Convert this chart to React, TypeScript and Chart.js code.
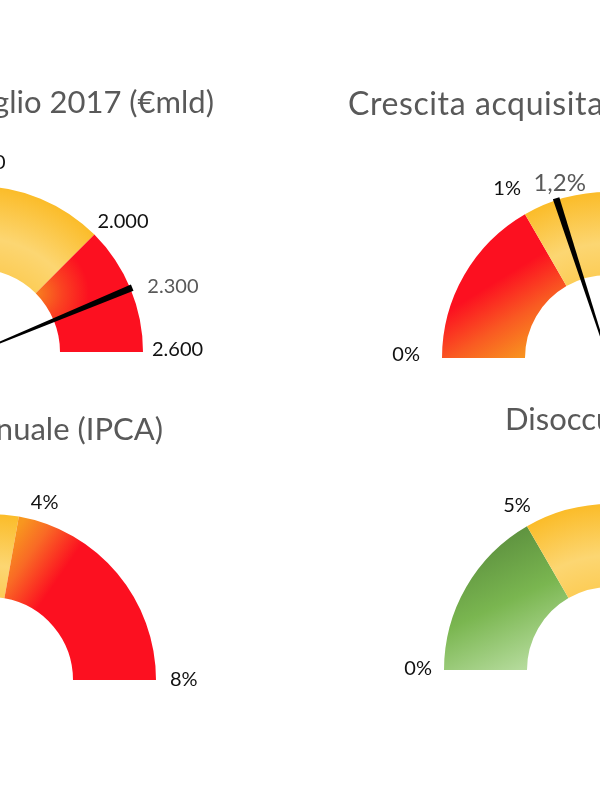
import React, { useEffect, useRef } from 'react';
import { Chart, registerables } from 'chart.js';

Chart.register(...registerables);

// ---------------- DATA ----------------
// Gauge 1 – public debt
const debtTitle = 'Debito pubblico luglio 2017 (€mld)';
const debtBounds = [200, 1400, 2000, 2300, 2600];
const debtTicks = [1400, 2000, 2300, 2600];
const debtTickLabels = ['1.400', '2.000', '2.300', '2.600'];
const debtNeedle = 2300;

// Gauge 2 – GDP growth
const growthTitle = 'Crescita acquisita PIL per il 2017';
const growthBounds = [0, 1, 2, 3];
const growthTicks = [0, 1, 1.2, 2, 3];
const growthTickLabels = ['0%', '1%', '1,2%', '2%', '3%'];
const growthNeedle = 1.2;

// Gauge 3 – inflation
const inflationTitle = 'Inflazione annuale (IPCA)';
const inflationBounds = [-1, 2, 4, 8];
const inflationTicks = [2, 4, 8];
const inflationTickLabels = ['2%', '4%', '8%'];
const inflationNeedle = 1.2;

// Gauge 4 – unemployment
const unemploymentTitle = 'Disoccupazione';
const unemploymentBounds = [0, 5, 10, 15];
const unemploymentTicks = [0, 5, 10, 15];
const unemploymentTickLabels = ['0%', '5%', '10%', '15%'];
const unemploymentNeedle = 11.2;

// ---------------- STYLE ----------------
const FONT = 'Lato, "Open Sans", sans-serif';
const TITLE_COLOR = '#595959';
const LABEL_COLOR = '#111111';
const RED = '#FC1020';
const GREEN = '#70AD47';

type Stops = [number, string][];
type Paint =
  | { type: 'solid'; color: string }
  | { type: 'linear'; p0: [number, number]; p1: [number, number]; stops: Stops }
  | { type: 'radial'; at: [number, number]; r0: number; r1: number; stops: Stops };

const YELLOW: Paint = {
  type: 'radial', at: [0, 0], r0: 0.5, r1: 1.0,
  stops: [[0, '#FCCD58'], [0.38, '#FCD672'], [1, '#FBBC29']],
};

type LabelStyle = { align: CanvasTextAlign; dx: number; dy: number; color?: string; size?: number };

type GaugeSpec = {
  title: string;
  bounds: number[];
  ticks: number[];
  tickLabels: string[];
  needle: number;
  cx: number; cy: number; R: number;
  titleAlign: CanvasTextAlign; titleDx: number; titleDy: number;
  titleSize: number; titleSpacing: number;
  paints: Paint[];
  labelStyles: LabelStyle[];
};

const gauges: GaugeSpec[] = [
  {
    title: debtTitle, bounds: debtBounds, ticks: debtTicks, tickLabels: debtTickLabels, needle: debtNeedle,
    cx: -23, cy: 352, R: 166,
    titleAlign: 'right', titleDx: 237, titleDy: -239, titleSize: 31, titleSpacing: 0,
    paints: [
      { type: 'solid', color: GREEN },
      YELLOW,
      { type: 'radial', at: [45, 0.5], r0: 0, r1: 0.32, stops: [[0, '#F7801F'], [0.5, '#FA4221'], [1, RED]] },
      { type: 'solid', color: RED },
    ],
    labelStyles: [
      { align: 'center', dx: 3, dy: -23 },
      { align: 'left', dx: 3, dy: -13 },
      { align: 'left', dx: 17, dy: -2, color: TITLE_COLOR },
      { align: 'left', dx: 9, dy: -2 },
    ],
  },
  {
    title: growthTitle, bounds: growthBounds, ticks: growthTicks, tickLabels: growthTickLabels, needle: growthNeedle,
    cx: 608, cy: 358, R: 166,
    titleAlign: 'left', titleDx: -260, titleDy: -243, titleSize: 32, titleSpacing: 0.6,
    paints: [
      { type: 'linear', p0: [180, 0.48], p1: [148.6, 0.9], stops: [[0, '#F8981F'], [0.45, '#F95A22'], [0.9, RED]] },
      YELLOW,
      { type: 'solid', color: GREEN },
    ],
    labelStyles: [
      { align: 'right', dx: -22, dy: -3 },
      { align: 'right', dx: -4, dy: -26 },
      { align: 'center', dx: 3, dy: -17, color: TITLE_COLOR, size: 24 },
      { align: 'center', dx: 5, dy: -20 },
      { align: 'left', dx: 10, dy: 0 },
    ],
  },
  {
    title: inflationTitle, bounds: inflationBounds, ticks: inflationTicks, tickLabels: inflationTickLabels, needle: inflationNeedle,
    cx: -10, cy: 680, R: 166,
    titleAlign: 'right', titleDx: 173, titleDy: -240, titleSize: 31, titleSpacing: 0,
    paints: [
      { type: 'solid', color: GREEN },
      YELLOW,
      { type: 'linear', p0: [82, 0.85], p1: [56, 0.76], stops: [[0, '#F8961F'], [0.4, '#F96A25'], [1, RED]] },
    ],
    labelStyles: [
      { align: 'center', dx: -5, dy: -20 },
      { align: 'left', dx: 12, dy: -14 },
      { align: 'left', dx: 14, dy: 0 },
    ],
  },
  {
    title: unemploymentTitle, bounds: unemploymentBounds, ticks: unemploymentTicks, tickLabels: unemploymentTickLabels, needle: unemploymentNeedle,
    cx: 610, cy: 670, R: 166,
    titleAlign: 'left', titleDx: -105, titleDy: -240, titleSize: 31, titleSpacing: 0,
    paints: [
      { type: 'linear', p0: [137, 1.15], p1: [180, 0.48], stops: [[0, '#5A8D3D'], [0.5, '#7AB650'], [1, '#B8DDA0']] },
      YELLOW,
      { type: 'solid', color: RED },
    ],
    labelStyles: [
      { align: 'right', dx: -12, dy: -1 },
      { align: 'center', dx: -10, dy: -21 },
      { align: 'center', dx: 10, dy: -21 },
      { align: 'left', dx: 12, dy: -1 },
    ],
  },
];

const PAD_X = 120;
const PAD_TOP = 300;
const PAD_BOTTOM = 40;

function polar(area: any, deg: number, rf: number): [number, number] {
  const cx = (area.left + area.right) / 2;
  const cy = area.bottom;
  const R = area.bottom - area.top;
  const a = (deg * Math.PI) / 180;
  return [cx + rf * R * Math.cos(a), cy - rf * R * Math.sin(a)];
}

function makePaint(ctx: any, p: Paint): any {
  const chart = ctx.chart;
  const area = chart.chartArea;
  if (p.type === 'solid') return p.color;
  if (!area) return p.stops[p.stops.length - 1][1];
  const c = chart.ctx as CanvasRenderingContext2D;
  const R = area.bottom - area.top;
  let g: CanvasGradient;
  if (p.type === 'linear') {
    const [x0, y0] = polar(area, p.p0[0], p.p0[1]);
    const [x1, y1] = polar(area, p.p1[0], p.p1[1]);
    g = c.createLinearGradient(x0, y0, x1, y1);
  } else {
    const [x, y] = polar(area, p.at[0], p.at[1]);
    g = c.createRadialGradient(x, y, p.r0 * R, x, y, p.r1 * R);
  }
  p.stops.forEach(([o, col]) => g.addColorStop(o, col));
  return g;
}

function makeDecor(spec: GaugeSpec) {
  return {
    id: 'gaugeDecor',
    afterDatasetsDraw(chart: any) {
      const arcs = chart.getDatasetMeta(0).data as any[];
      if (!arcs.length) return;
      const cx = arcs[0].x;
      const cy = arcs[0].y;
      const R = arcs[0].outerRadius;
      const b = spec.bounds;
      const angleOf = (v: number) => {
        let i = 0;
        while (i < b.length - 2 && v > b[i + 1]) i++;
        const arc = arcs[i];
        const t = (v - b[i]) / (b[i + 1] - b[i]);
        return arc.startAngle + t * (arc.endAngle - arc.startAngle);
      };
      const ctx = chart.ctx as CanvasRenderingContext2D;
      ctx.save();
      // needle
      const a = angleOf(spec.needle);
      const ux = Math.cos(a), uy = Math.sin(a);
      const px = -uy, py = ux;
      const len = R + 2;
      const w0 = 0.6, w1 = 3.4;
      ctx.beginPath();
      ctx.moveTo(cx + px * w0, cy + py * w0);
      ctx.lineTo(cx + ux * len + px * w1, cy + uy * len + py * w1);
      ctx.lineTo(cx + ux * len - px * w1, cy + uy * len - py * w1);
      ctx.lineTo(cx - px * w0, cy - py * w0);
      ctx.closePath();
      ctx.fillStyle = '#000';
      ctx.fill();
      // tick labels
      ctx.textBaseline = 'middle';
      spec.ticks.forEach((v, i) => {
        const st = spec.labelStyles[i];
        const ang = angleOf(v);
        const x = cx + R * Math.cos(ang) + st.dx;
        const y = cy + R * Math.sin(ang) + st.dy;
        ctx.font = `${st.size ?? 20}px ${FONT}`;
        ctx.fillStyle = st.color ?? LABEL_COLOR;
        ctx.textAlign = st.align;
        ctx.fillText(spec.tickLabels[i], x, y);
      });
      // title
      ctx.font = `${spec.titleSize}px ${FONT}`;
      (ctx as any).letterSpacing = `${spec.titleSpacing}px`;
      ctx.fillStyle = TITLE_COLOR;
      ctx.textAlign = spec.titleAlign;
      ctx.textBaseline = 'alphabetic';
      ctx.fillText(spec.title, cx + spec.titleDx, cy + spec.titleDy);
      (ctx as any).letterSpacing = '0px';
      ctx.restore();
    },
  };
}

function Gauge({ spec }: { spec: GaugeSpec }) {
  const ref = useRef<HTMLCanvasElement>(null);
  useEffect(() => {
    const canvas = ref.current;
    if (!canvas) return;
    const values = spec.bounds.slice(1).map((v, i) => v - spec.bounds[i]);
    const labels = spec.bounds.slice(1).map((v, i) => `${spec.bounds[i]}–${v}`);
    const chart = new Chart(canvas, {
      type: 'doughnut',
      data: {
        labels,
        datasets: [
          {
            data: values,
            backgroundColor: (ctx: any) => makePaint(ctx, spec.paints[ctx.dataIndex]),
            borderWidth: 0,
          },
        ],
      },
      options: {
        responsive: false,
        animation: false,
        events: [],
        rotation: -90,
        circumference: 180,
        cutout: '50%',
        layout: { padding: { left: PAD_X, right: PAD_X, top: PAD_TOP, bottom: PAD_BOTTOM } },
        plugins: { legend: { display: false }, tooltip: { enabled: false }, title: { display: false } },
      } as any,
      plugins: [makeDecor(spec)],
    });
    return () => chart.destroy();
  }, [spec]);
  const w = 2 * spec.R + 2 * PAD_X;
  const h = PAD_TOP + spec.R + PAD_BOTTOM;
  return (
    <canvas
      ref={ref}
      width={w}
      height={h}
      style={{ position: 'absolute', left: spec.cx - spec.R - PAD_X, top: spec.cy - spec.R - PAD_TOP, width: w, height: h }}
    />
  );
}

export default function App() {
  return (
    <div style={{ position: 'fixed', left: 0, top: 0, width: 600, height: 800, overflow: 'hidden', background: '#fff' }}>
      {gauges.map((g, i) => (
        <Gauge key={i} spec={g} />
      ))}
    </div>
  );
}
